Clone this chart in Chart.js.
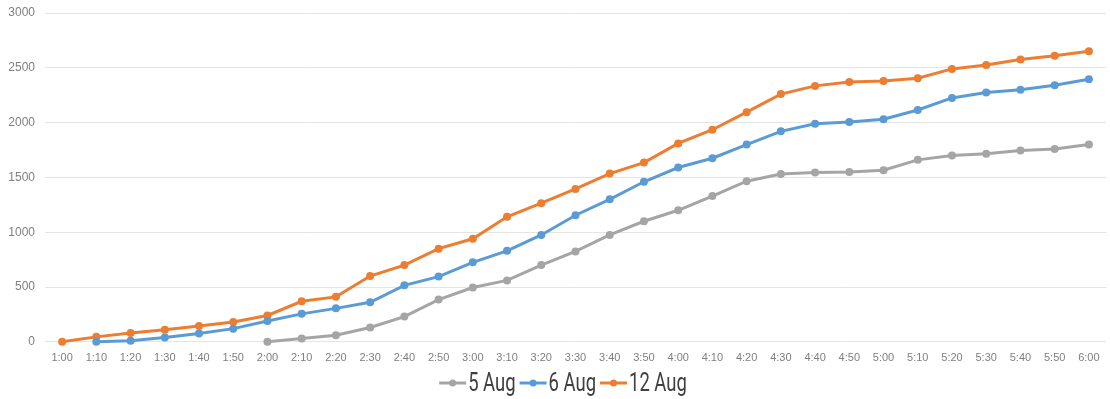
<!DOCTYPE html>
<html>
<head>
<meta charset="utf-8">
<script src="https://cdn.jsdelivr.net/npm/chart.js@4"></script>
<style>
  html, body { margin: 0; padding: 0; background: #fff; }
  #wrap { width: 1110px; height: 399px; }
</style>
</head>
<body>
<div id="wrap"><canvas id="c" width="1110" height="399"></canvas></div>
<script>
// Time of day, every ten minutes
const times = ['1:00','1:10','1:20','1:30','1:40','1:50','2:00','2:10','2:20','2:30','2:40','2:50',
  '3:00','3:10','3:20','3:30','3:40','3:50','4:00','4:10','4:20','4:30','4:40','4:50',
  '5:00','5:10','5:20','5:30','5:40','5:50','6:00'];

// Cumulative counts per day (null before counting started)
const aug5 = [null,null,null,null,null,null,0,30,60,130,230,385,
  495,560,700,825,975,1100,1200,1330,1465,1530,1545,1550,
  1565,1660,1700,1715,1745,1760,1800];
const aug6 = [null,0,10,40,75,120,190,255,305,360,515,595,
  725,830,975,1155,1300,1460,1590,1675,1800,1920,1990,2005,
  2030,2115,2225,2275,2300,2340,2395];
const aug12 = [0,45,80,110,145,180,240,370,410,600,700,850,
  940,1140,1265,1395,1535,1635,1810,1935,2095,2260,2335,2370,
  2380,2405,2490,2525,2575,2610,2650];

const yTicks = [0, 500, 1000, 1500, 2000, 2500, 3000];

const seriesNames = ['5 Aug', '6 Aug', '12 Aug'];
const seriesColors = ['#A5A5A5', '#5B9BD5', '#ED7D31'];

function makeSet(label, data, color) {
  return {
    label, data,
    borderColor: color,
    backgroundColor: color,
    borderWidth: 3,
    pointRadius: 4,
    pointHoverRadius: 4,
    pointBorderWidth: 0,
    pointBackgroundColor: color,
    tension: 0,
    spanGaps: false,
    clip: false
  };
}

// Centered legend under the axis: line-with-dot swatch followed by narrow text
const lineLegend = {
  id: 'lineLegend',
  afterDraw(chart) {
    const ctx = chart.ctx;
    const sets = chart.data.datasets;
    const y = 383;
    const swW = 27, gapAfterSw = 2, gapAfterText = 4, squeeze = 0.71;
    ctx.save();
    ctx.font = "26px Roboto, 'Liberation Sans', sans-serif";
    ctx.textBaseline = 'middle';
    const widths = sets.map(ds => ctx.measureText(ds.label).width * squeeze);
    let total = 0;
    widths.forEach((w, i) => { total += swW + gapAfterSw + w + (i < widths.length - 1 ? gapAfterText : 0); });
    let x = (chart.width - total) / 2 + 8;
    sets.forEach((ds, i) => {
      ctx.strokeStyle = ds.borderColor;
      ctx.lineWidth = 3;
      ctx.beginPath(); ctx.moveTo(x, y); ctx.lineTo(x + swW, y); ctx.stroke();
      ctx.fillStyle = ds.borderColor;
      ctx.beginPath(); ctx.arc(x + swW / 2, y, 3.5, 0, Math.PI * 2); ctx.fill();
      x += swW + gapAfterSw;
      ctx.save();
      ctx.translate(x, y + 1);
      ctx.scale(squeeze, 1);
      ctx.fillStyle = '#404040';
      ctx.fillText(ds.label, 0, 0);
      ctx.restore();
      x += widths[i] + gapAfterText;
    });
    ctx.restore();
  }
};

new Chart(document.getElementById('c'), {
  type: 'line',
  data: {
    labels: times,
    datasets: [
      makeSet(seriesNames[0], aug5, seriesColors[0]),
      makeSet(seriesNames[1], aug6, seriesColors[1]),
      makeSet(seriesNames[2], aug12, seriesColors[2])
    ]
  },
  plugins: [lineLegend],
  options: {
    responsive: false,
    animation: false,
    devicePixelRatio: 1,
    layout: { padding: { left: 0, right: 0, top: 13, bottom: 24 } },
    plugins: {
      tooltip: { enabled: false },
      legend: { display: false }
    },
    scales: {
      x: {
        offset: true,
        grid: { display: false, drawTicks: false },
        border: { display: false },
        ticks: {
          autoSkip: false, maxRotation: 0, minRotation: 0,
          padding: 10,
          color: '#7f7f7f',
          font: { family: "'Liberation Sans', Arial, sans-serif", size: 11 }
        }
      },
      y: {
        min: 0, max: 3000,
        afterBuildTicks(scale) { scale.ticks = yTicks.map(v => ({ value: v })); },
        afterFit(scale) {
          scale.width = 45;
          scale.paddingTop = 0;
          scale.paddingBottom = 0;
        },
        grid: { color: '#e4e4e4', lineWidth: 1, drawTicks: false },
        border: { display: false },
        ticks: {
          padding: 10,
          color: '#7f7f7f',
          callback: v => String(v),
          font: { family: "'Liberation Sans', Arial, sans-serif", size: 12 }
        }
      }
    }
  }
});
</script>
</body>
</html>
